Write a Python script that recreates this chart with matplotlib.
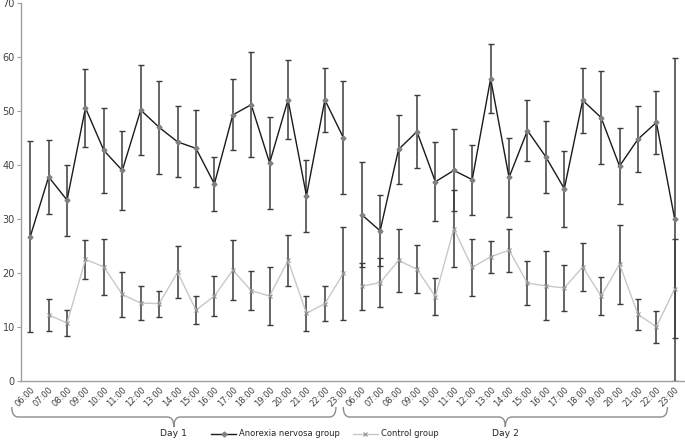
import numpy as np
import matplotlib
matplotlib.use("Agg")
import matplotlib.pyplot as plt
import matplotlib.transforms as mtransforms
from matplotlib.path import Path
from matplotlib.patches import PathPatch
from matplotlib.lines import Line2D

plt.rcParams['font.family'] = ['DejaVu Sans']

hours = ['06:00', '07:00', '08:00', '09:00', '10:00', '11:00', '12:00', '13:00', '14:00',
         '15:00', '16:00', '17:00', '18:00', '19:00', '20:00', '21:00', '22:00', '23:00']
days = ['Day 1', 'Day 2']
tick_labels = hours + hours

an_mean = [26.7, 37.8, 33.5, 50.6, 42.7, 39.0, 50.2, 47.0, 44.3, 43.1, 36.5, 49.3, 51.2, 40.4, 52.1, 34.3, 52.1, 45.1,
           30.8, 27.8, 42.9, 46.2, 36.9, 39.0, 37.3, 56.0, 37.7, 46.4, 41.5, 35.6, 52.0, 48.8, 39.8, 44.8, 47.9, 29.9]
an_err = [17.7, 6.8, 6.6, 7.3, 7.8, 7.3, 8.3, 8.6, 6.6, 7.2, 5.0, 6.6, 9.7, 8.6, 7.3, 6.7, 5.9, 10.4,
          9.8, 6.6, 6.4, 6.7, 7.3, 7.6, 6.5, 6.4, 7.3, 5.6, 6.6, 7.0, 6.0, 8.6, 7.1, 6.1, 5.8, 30.0]
ctl_mean = [np.nan, 12.2, 10.7, 22.5, 21.1, 16.0, 14.4, 14.3, 20.1, 13.1, 15.7, 20.5, 16.7, 15.7, 22.3, 12.5, 14.3, 19.9,
            17.5, 18.2, 22.3, 20.7, 15.6, 28.2, 21.0, 23.0, 24.2, 18.1, 17.6, 17.2, 21.1, 15.7, 21.6, 12.3, 10.0, 17.1]
ctl_err = [np.nan, 2.9, 2.5, 3.6, 5.2, 4.2, 3.1, 2.4, 4.8, 2.6, 3.7, 5.6, 3.6, 5.4, 4.7, 3.3, 3.2, 8.7,
           4.3, 4.5, 5.8, 4.4, 3.4, 7.2, 5.2, 3.0, 4.0, 4.1, 6.4, 4.3, 4.5, 3.6, 7.3, 2.9, 3.0, 9.1]
yticks = [0, 10, 20, 30, 40, 50, 60, 70]

fig = plt.figure(figsize=(6.85, 4.41), dpi=100)
ax = fig.add_axes([21/685, 1-380.7/441, 663/685, (380.7-3.3)/441])

n = len(hours)
x = np.arange(len(tick_labels))
an_mean = np.array(an_mean); an_err = np.array(an_err)
ctl_mean = np.array(ctl_mean); ctl_err = np.array(ctl_err)

errc = '#3c3c3c'
for d in range(2):
    s = slice(d*n, (d+1)*n)
    ax.errorbar(x[s], an_mean[s], yerr=an_err[s], fmt='none', ecolor=errc, elinewidth=1.1,
                capsize=2, capthick=1.0, zorder=2)
    ax.errorbar(x[s], ctl_mean[s], yerr=ctl_err[s], fmt='none', ecolor=errc, elinewidth=1.1,
                capsize=2, capthick=1.0, zorder=2)
    ax.plot(x[s], an_mean[s], color='#1a1a1a', lw=1.0, marker='D', ms=2.5,
            mfc='#808080', mec='#808080', zorder=3)
    ax.plot(x[s], ctl_mean[s], color='#c8c8c8', lw=1.0, marker='x', ms=3.5,
            mew=0.8, mec='#909090', zorder=3)

ax.set_xlim(-0.5, len(tick_labels) - 0.5)
ax.set_ylim(0, 70)
ax.set_yticks(yticks)
ax.set_yticklabels([str(t) for t in yticks], fontsize=7, color='#404040')
ax.set_xticks(x)
ax.set_xticklabels(tick_labels, rotation=45, ha='right', va='top', rotation_mode='anchor',
                   fontsize=6, color='#404040')
ax.tick_params(axis='x', length=0, pad=3)
ax.tick_params(axis='y', length=3, width=0.8, color='#a0a0a0', pad=1.5)
for sp in ['top', 'right']:
    ax.spines[sp].set_visible(False)
for sp in ['left', 'bottom']:
    ax.spines[sp].set_color('#a0a0a0')
    ax.spines[sp].set_linewidth(1.0)

# braces beneath the category axis
trans = mtransforms.blended_transform_factory(ax.transData, fig.transFigure)
y_top, y_mid, y_tip = 1-407/441, 1-417/441, 1-427/441
def brace(x0, x1, xt):
    r = 0.35
    verts = [(x0, y_top), (x0, y_mid), (x0 + r, y_mid), (xt - r, y_mid), (xt, y_mid), (xt, y_tip),
             (xt, y_tip), (xt, y_mid), (xt + r, y_mid), (x1 - r, y_mid), (x1, y_mid), (x1, y_top)]
    codes = [Path.MOVETO, Path.CURVE3, Path.CURVE3, Path.LINETO, Path.CURVE3, Path.CURVE3,
             Path.MOVETO, Path.CURVE3, Path.CURVE3, Path.LINETO, Path.CURVE3, Path.CURVE3]
    p = PathPatch(Path(verts, codes), transform=trans, fill=False, edgecolor='#8c8c8c', lw=1.0,
                  clip_on=False)
    fig.add_artist(p)

for d, name in enumerate(days):
    x0 = d*n - 1.0
    x1 = (d+1)*n - 1 - 0.4
    xt = (x0 + x1) / 2
    brace(x0, x1, xt)
    fig.text(xt, 1-434/441, name, transform=trans, fontsize=6.7, color='#262626',
             ha='center', va='center')

handles = [Line2D([], [], color='#1a1a1a', lw=1.0, marker='D', ms=2.5, mfc='#808080', mec='#808080'),
           Line2D([], [], color='#c8c8c8', lw=1.0, marker='x', ms=3.5, mew=0.8, mec='#909090')]
fig.legend(handles, ['Anorexia nervosa group', 'Control group'], loc='center',
           bbox_to_anchor=(325/685, 1-434/441), ncol=2, frameon=False, fontsize=6,
           handlelength=3, columnspacing=1.5, handletextpad=0.4, labelcolor='#262626')

fig.savefig('out.png', dpi=100)
